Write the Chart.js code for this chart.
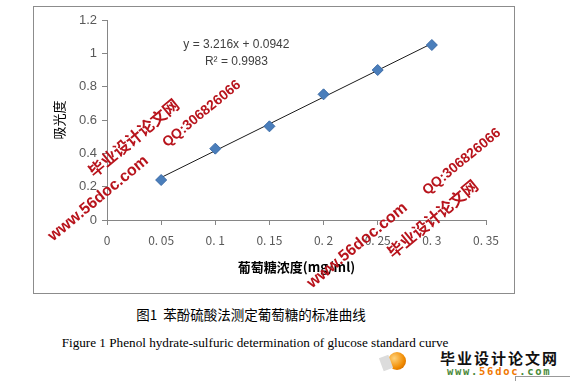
<!DOCTYPE html>
<html><head><meta charset="utf-8">
<script src="https://cdn.jsdelivr.net/npm/chart.js@4/dist/chart.umd.min.js"></script>
<style>
html,body{margin:0;padding:0;background:#fff;width:570px;height:381px;overflow:hidden;position:relative;font-family:"Noto Sans CJK SC",sans-serif}
#box{position:absolute;left:33px;top:6px;width:480px;height:286px;border:1px solid #8c8c8c}
#box canvas{position:absolute;left:0;top:0}
.wm{position:absolute;color:#b8141c;white-space:nowrap;transform:translate(-50%,-50%) rotate(-39.5deg);font-family:"Liberation Sans",Arial,sans-serif;line-height:1}
.cap{position:absolute;white-space:nowrap;transform:translateX(-50%);color:#000}
</style></head><body>
<div id="box"><canvas id="c" width="480" height="286"></canvas></div>
<div class="cap" style="left:251px;top:304px;font-family:'Noto Sans CJK SC';font-size:13.5px;">图1&nbsp;&nbsp;苯酚硫酸法测定葡萄糖的标准曲线</div>
<div class="cap" style="left:255px;top:335px;font-family:'Liberation Serif';font-size:13.2px;">Figure 1 Phenol hydrate-sulfuric determination of glucose standard curve</div>
<div class="wm" style="left:98px;top:198px;font-size:16px;font-weight:bold">www.56doc.com</div>
<div class="wm" style="left:133px;top:137px;font-size:16px;font-weight:bold;font-family:'Noto Sans CJK SC'">毕业设计论文网</div>
<div class="wm" style="left:201px;top:113px;font-size:14px;font-weight:bold">QQ:306826066</div>
<div class="wm" style="left:357px;top:245px;font-size:16px;font-weight:bold">www.56doc.com</div>
<div class="wm" style="left:432px;top:218px;font-size:16px;font-weight:bold;font-family:'Noto Sans CJK SC'">毕业设计论文网</div>
<div class="wm" style="left:461px;top:161px;font-size:14px;font-weight:bold">QQ:306826066</div>
<div style="position:absolute;left:388px;top:352px;width:18px;height:18px;border-radius:50%;background:radial-gradient(circle at 35% 35%,#ffd27a,#f08a00 60%,#b85400)"></div>
<div style="position:absolute;left:381px;top:356px;width:10px;height:14px;background:#dcdcdc;transform:rotate(-20deg)"></div>
<div style="position:absolute;left:440px;top:350px;font-family:'Noto Sans CJK SC';font-weight:bold;font-size:15px;letter-spacing:2px;color:#111;line-height:1">毕业设计论文网</div>
<div style="position:absolute;left:447px;top:366px;font-family:'DejaVu Sans Mono',monospace;font-weight:bold;font-size:10.5px;letter-spacing:1.7px;line-height:1;color:#4a8a3a">www.<span style="color:#f07800">56doc</span>.com</div>
<div style="position:absolute;left:515px;top:376px;width:60px;height:10px;border-left:1px solid #999;border-top:1px solid #999"></div>
<script>
const concentrations = [0.05, 0.1, 0.15, 0.2, 0.25, 0.3];
const absorbance = [0.24, 0.428, 0.562, 0.754, 0.90, 1.05];
const trendX = [0.05, 0.3];
const trendY = [0.255, 1.059];
const xTickValues = [0, 0.05, 0.1, 0.15, 0.2, 0.25, 0.3, 0.35];
const xTickLabels = ['0', '0. 05', '0. 1', '0. 15', '0. 2', '0. 25', '0. 3', '0. 35'];
const yTickLabels = ['0', '0.2', '0.4', '0.6', '0.8', '1', '1.2'];
const equationLines = ['y = 3.216x + 0.0942', 'R² = 0.9983'];
const xTitle = '葡萄糖浓度(mg/ml)';
const yTitle = '吸光度';

const pts = concentrations.map((x, i) => ({x, y: absorbance[i]}));
const trend = trendX.map((x, i) => ({x, y: trendY[i]}));

const eqPlugin = {
  id: 'eq',
  afterDatasetsDraw(chart) {
    const ctx = chart.ctx, xs = chart.scales.x, ys = chart.scales.y;
    ctx.save();
    ctx.fillStyle = '#404040';
    ctx.font = '12px "Liberation Sans", Arial, sans-serif';
    ctx.textAlign = 'center';
    ctx.textBaseline = 'middle';
    const cx = xs.getPixelForValue(0.1195);
    ctx.fillText(equationLines[0], cx, ys.getPixelForValue(1.05));
    ctx.fillText(equationLines[1], cx, ys.getPixelForValue(0.947));
    ctx.restore();
  }
};

new Chart(document.getElementById('c'), {
  type: 'scatter',
  data: {
    datasets: [
      {data: trend, showLine: true, borderColor: '#1a1a1a', borderWidth: 1, pointRadius: 0, order: 2},
      {data: pts, pointStyle: 'rectRot', pointRadius: 5.5, pointBackgroundColor: '#4a7ebb', pointBorderColor: '#3a6aa6', pointBorderWidth: 1, showLine: false, order: 1}
    ]
  },
  options: {
    responsive: false,
    animation: false,
    layout: {padding: {left: 0, right: 28, top: 13, bottom: 0}},
    plugins: {legend: {display: false}, tooltip: {enabled: false}},
    scales: {
      x: {
        type: 'linear', min: 0, max: 0.35,
        afterBuildTicks(s) { s.ticks = xTickValues.map(v => ({value: v})); },
        afterFit(s) { s.height = 73; },
        ticks: {
          callback: (v, i) => xTickLabels[i],
          color: '#595959', font: {family: '"Noto Sans CJK SC", sans-serif', size: 12}, padding: 8, maxRotation: 0, autoSkip: false
        },
        grid: {drawOnChartArea: false, drawTicks: true, tickLength: 5, color: '#868686'},
        border: {display: true, color: '#868686'},
        title: {display: true, text: xTitle, color: '#000', font: {family: '"Noto Sans CJK SC", sans-serif', size: 13, weight: 'bold'}, padding: {top: 4, bottom: 18}}
      },
      y: {
        type: 'linear', min: 0, max: 1.2,
        afterBuildTicks(s) { s.ticks = yTickLabels.map(v => ({value: parseFloat(v)})); },
        afterFit(s) { s.width = 73; },
        ticks: {
          callback: (v, i) => yTickLabels[i],
          color: '#595959', font: {family: '"Liberation Sans", Arial, sans-serif', size: 13}, padding: 5
        },
        grid: {drawOnChartArea: false, drawTicks: true, tickLength: 5, color: '#868686'},
        border: {display: true, color: '#868686'},
        title: {display: true, text: yTitle, color: '#000', font: {family: '"Noto Sans CJK SC", sans-serif', size: 13}, padding: {top: 17, bottom: 0}}
      }
    }
  },
  plugins: [eqPlugin]
});
</script>
</body></html>
